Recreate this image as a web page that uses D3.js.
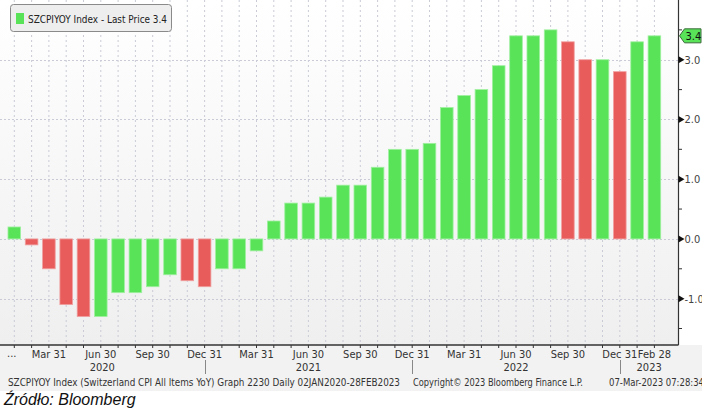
<!DOCTYPE html>
<html><head><meta charset="utf-8">
<script src="https://cdn.jsdelivr.net/npm/d3@7"></script>
<style>
html,body{margin:0;padding:0;background:#fff;}
svg{display:block;}
</style></head>
<body>
<svg id="c" width="702" height="409"></svg>
<script>
const months = ["2020-01","2020-02","2020-03","2020-04","2020-05","2020-06","2020-07","2020-08","2020-09","2020-10","2020-11","2020-12",
"2021-01","2021-02","2021-03","2021-04","2021-05","2021-06","2021-07","2021-08","2021-09","2021-10","2021-11","2021-12",
"2022-01","2022-02","2022-03","2022-04","2022-05","2022-06","2022-07","2022-08","2022-09","2022-10","2022-11","2022-12",
"2023-01","2023-02"];
const values = [0.2,-0.1,-0.5,-1.1,-1.3,-1.3,-0.9,-0.9,-0.8,-0.6,-0.7,-0.8,
-0.5,-0.5,-0.2,0.3,0.6,0.6,0.7,0.9,0.9,1.2,1.5,1.5,
1.6,2.2,2.4,2.5,2.9,3.4,3.4,3.5,3.3,3.0,3.0,2.8,
3.3,3.4];
const tickLabels = {"2020-03":"Mar 31","2020-06":"Jun 30","2020-09":"Sep 30","2020-12":"Dec 31",
"2021-03":"Mar 31","2021-06":"Jun 30","2021-09":"Sep 30","2021-12":"Dec 31",
"2022-03":"Mar 31","2022-06":"Jun 30","2022-09":"Sep 30","2022-12":"Dec 31","2023-02":"Feb 28"};
const yearNames = ["2020","2021","2022","2023"];
const yearSeparators = ["2020-12","2021-12","2022-12"];
const yTicks = [-1,0,1,2,3];
const yMinor = [-1.5,-0.5,0.5,1.5,2.5,3.5];
const legendText = "SZCPIYOY Index - Last Price 3.4";
const lastValue = 3.4;
const footerLeft = "SZCPIYOY Index (Switzerland CPI All Items YoY) Graph 2230  Daily 02JAN2020-28FEB2023";
const footerMid = "Copyright\u00A9 2023 Bloomberg Finance L.P.";
const footerRight = "07-Mar-2023 07:28:34";
const source = "\u0179r\u00F3d\u0142o: Bloomberg";

const GREEN = "#59e359", RED = "#e85c5c";
const svg = d3.select("#c");
const plotTop = 0, plotBottom = 345, axisX = 678.5;
const font = "'DejaVu Sans Condensed','Liberation Sans Narrow',sans-serif";

const defs = svg.append("defs");
const g1 = defs.append("linearGradient").attr("id","bg").attr("x1",0).attr("y1",0).attr("x2",0).attr("y2",1);
g1.append("stop").attr("offset","0%").attr("stop-color","#ffffff");
g1.append("stop").attr("offset","100%").attr("stop-color","#efefef");

svg.append("rect").attr("x",0).attr("y",plotBottom).attr("width",702).attr("height",391-plotBottom).attr("fill","#f2f2f2");
svg.append("rect").attr("x",0).attr("y",plotTop).attr("width",axisX).attr("height",plotBottom-plotTop).attr("fill","url(#bg)");

const x = d3.scaleBand().domain(months).range([5.65,663.05]).paddingInner(0.27).paddingOuter(0.135);
const y = d3.scaleLinear().domain([-1.776,4.0]).range([plotBottom,plotTop]);
const cx = m => x(m) + x.bandwidth()/2;

svg.append("g").selectAll("line").data(months).join("line")
  .attr("x1",d=>cx(d)).attr("x2",d=>cx(d)).attr("y1",plotTop).attr("y2",plotBottom)
  .attr("stroke","#c9cbd6").attr("stroke-width",1).attr("stroke-dasharray","2,3");
svg.append("g").selectAll("line").data(yTicks).join("line")
  .attr("x1",0).attr("x2",axisX).attr("y1",d=>Math.round(y(d))+0.5).attr("y2",d=>Math.round(y(d))+0.5)
  .attr("stroke","#c9cbd6").attr("stroke-width",1).attr("stroke-dasharray","2,2");

svg.append("g").selectAll("rect").data(values).join("rect")
  .attr("x",(d,i)=>x(months[i]))
  .attr("width",x.bandwidth())
  .attr("y",d=>y(Math.max(0,d)))
  .attr("height",d=>Math.abs(y(d)-y(0)))
  .attr("fill",(d,i)=> (i>0 && d<values[i-1]) ? RED : GREEN)
  .attr("stroke",(d,i)=> (i>0 && d<values[i-1]) ? "#f0a0a0" : "#a0f0a0")
  .attr("stroke-width",0.8);

svg.append("line").attr("x1",0).attr("x2",axisX).attr("y1",plotBottom).attr("y2",plotBottom).attr("stroke","#333").attr("stroke-width",1.5);
svg.append("g").selectAll("line").data(months).join("line")
  .attr("x1",d=>cx(d)).attr("x2",d=>cx(d)).attr("y1",plotBottom).attr("y2",plotBottom+3)
  .attr("stroke","#333").attr("stroke-width",1);
svg.append("g").selectAll("text").data(Object.keys(tickLabels)).join("text")
  .attr("x",d=>cx(d)).attr("y",358).attr("text-anchor","middle")
  .attr("font-family",font).attr("font-size",11).attr("fill","#333").text(d=>tickLabels[d]);
svg.append("text").attr("x",7).attr("y",357).attr("font-family",font).attr("font-size",11).attr("fill","#333").text("...");

// year labels centered in the segments between separators
const bounds = [0, ...yearSeparators.map(cx), axisX];
svg.append("g").selectAll("text").data(yearNames).join("text")
  .attr("x",(d,i)=>(bounds[i]+bounds[i+1])/2).attr("y",371).attr("text-anchor","middle")
  .attr("font-family",font).attr("font-size",11).attr("fill","#333").text(d=>d);
svg.append("g").selectAll("line").data(yearSeparators).join("line")
  .attr("x1",d=>Math.round(cx(d))+0.5).attr("x2",d=>Math.round(cx(d))+0.5).attr("y1",360).attr("y2",374)
  .attr("stroke","#888").attr("stroke-width",1);

svg.append("line").attr("x1",axisX).attr("x2",axisX).attr("y1",plotTop).attr("y2",plotBottom).attr("stroke","#333").attr("stroke-width",1.2);
svg.append("g").selectAll("path").data(yTicks).join("path")
  .attr("d",d=>{const yy=y(d);return `M${axisX},${yy-3.5}L${axisX+6},${yy}L${axisX},${yy+3.5}Z`;})
  .attr("fill","#111");
svg.append("g").selectAll("line").data(yMinor).join("line")
  .attr("x1",axisX).attr("x2",axisX+3.5).attr("y1",d=>y(d)).attr("y2",d=>y(d))
  .attr("stroke","#333").attr("stroke-width",1);
svg.append("g").selectAll("text").data(yTicks).join("text")
  .attr("x",axisX+6).attr("y",d=>y(d)+4).attr("font-family",font).attr("font-size",11).attr("fill","#444")
  .text(d=>d3.format(".1f")(d).replace("\u2212","-"));

const ly = y(lastValue);
svg.append("path").attr("d",`M${axisX+1},${ly}L${axisX+6},${ly-7}L${701},${ly-7}L${701},${ly+7}L${axisX+6},${ly+7}Z`)
  .attr("fill",GREEN).attr("stroke","#3a6a3a").attr("stroke-width",1);
svg.append("text").attr("x",axisX+7).attr("y",ly+4).attr("font-family",font).attr("font-size",11).attr("fill","#111").text(d3.format(".1f")(lastValue));

svg.append("rect").attr("x",10.5).attr("y",4.5).attr("width",161).attr("height",27).attr("rx",3)
  .attr("fill","#eeeeee").attr("stroke","#8a8a8a").attr("stroke-width",1);
svg.append("rect").attr("x",16).attr("y",13).attr("width",8).attr("height",11).attr("fill",GREEN);
svg.append("text").attr("x",28).attr("y",22.5).attr("font-family",font).attr("font-size",11).attr("fill","#222")
  .attr("textLength",139).attr("lengthAdjust","spacingAndGlyphs").text(legendText);

svg.append("text").attr("x",8).attr("y",386).attr("font-family",font).attr("font-size",10).attr("fill","#333")
  .attr("textLength",392).attr("lengthAdjust","spacingAndGlyphs").text(footerLeft);
svg.append("text").attr("x",413).attr("y",386).attr("font-family",font).attr("font-size",10).attr("fill","#333")
  .attr("textLength",170).attr("lengthAdjust","spacingAndGlyphs").text(footerMid);
svg.append("text").attr("x",609).attr("y",386).attr("font-family",font).attr("font-size",10).attr("fill","#333")
  .attr("textLength",95).attr("lengthAdjust","spacingAndGlyphs").text(footerRight);

svg.append("text").attr("x",4).attr("y",405).attr("font-family","'Liberation Sans',Arial,sans-serif")
  .attr("font-style","italic").attr("font-size",16).attr("fill","#111").text(source);
</script>
</body></html>
